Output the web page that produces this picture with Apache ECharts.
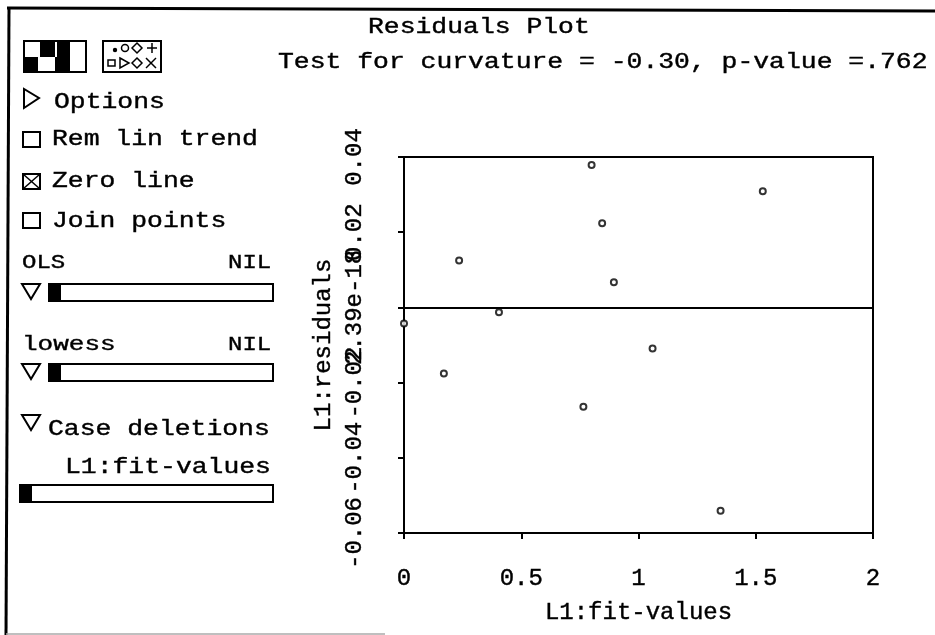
<!DOCTYPE html>
<html>
<head>
<meta charset="utf-8">
<style>
  html, body { margin: 0; padding: 0; background: #fff; }
  #main { width: 935px; height: 635px; }
</style>
</head>
<body>
<div id="main"></div>
<script src="https://cdn.jsdelivr.net/npm/echarts@6/dist/echarts.min.js"></script>
<script>
var fitValues = [0.80, 1.53, 0.845, 0.235, 0.895, 0, 0.405, 1.06, 0.17, 0.765, 1.35]
var residuals = [0.0379, 0.0309, 0.0224, 0.0125, 0.0067, -0.0043, -0.0013, -0.0109, -0.0176, -0.0264, -0.0541]
var yTickLabels = ['-0.06', '-0.04', '-0.02', '2.39e-18', '0.02', '0.04']
var xTickLabels = ['0', '0.5', '1', '1.5', '2']
var titleText = 'Residuals Plot'
var subtitleText = 'Test for curvature = -0.30, p-value =.762'

var mono = '"Liberation Mono", monospace'
var ink = '#000'
var weight = 0.4 //文字描边，原图字体偏粗

// 左侧面板的文字
function label(text, x, y, size, scaleX) {
  return {
    type: 'text',
    x: x,
    y: y,
    scaleX: scaleX || 1,
    style: {
      text: text,
      font: (size || 20) + 'px ' + mono,
      fill: ink,
      stroke: ink,
      lineWidth: weight,
      textVerticalAlign: 'middle',
    },
  }
}
function box(x, y, w, h, lw) {
  return {
    type: 'rect',
    shape: { x: x, y: y, width: w, height: h },
    style: { fill: '#fff', stroke: ink, lineWidth: lw || 2 },
  }
}
function solid(x, y, w, h) {
  return { type: 'rect', shape: { x: x, y: y, width: w, height: h }, style: { fill: ink } }
}
function tri(points, lw) {
  return { type: 'polygon', shape: { points: points }, style: { fill: '#fff', stroke: ink, lineWidth: lw || 2 } }
}
function slider(x, y, w) {
  return [box(x, y, w, 17), solid(x, y, 12, 17)]
}
function line(x1, y1, x2, y2, lw, color) {
  return { type: 'line', shape: { x1: x1, y1: y1, x2: x2, y2: y2 }, style: { stroke: color || ink, lineWidth: lw || 2 } }
}

var panel = [
  // 窗口边框
  line(7, 8, 935, 11, 3),
  line(9, 8, 6, 635, 3),
  line(6, 634, 385, 634, 1.5, '#aaa'),

  // 图标
  box(24, 41, 62, 31, 2),
  solid(40, 41, 15, 16),
  solid(57, 41, 13, 16),
  solid(24, 57, 14, 15),
  solid(55, 57, 15, 15),
  box(103, 41, 58, 31, 2),
  { type: 'circle', shape: { cx: 115, cy: 50, r: 2.2 }, style: { fill: ink } },
  { type: 'circle', shape: { cx: 125, cy: 48, r: 3.5 }, style: { fill: '#fff', stroke: ink, lineWidth: 1.5 } },
  tri([[137, 43], [142, 48], [137, 53], [132, 48]], 1.5),
  line(147, 48, 157, 48, 1.5),
  line(152, 43, 152, 53, 1.5),
  box(108, 60, 7, 6, 1.5),
  tri([[120, 58], [129, 63], [120, 68]], 1.5),
  tri([[137, 58], [142, 63], [137, 68], [132, 63]], 1.5),
  line(146, 58, 156, 68, 1.5),
  line(156, 58, 146, 68, 1.5),

  tri([[24, 89], [24, 108], [39, 98]]),
  box(23, 132, 17, 15),
  box(23, 174, 17, 15),
  line(23, 174, 40, 189, 1.5),
  line(40, 174, 23, 189, 1.5),
  box(23, 213, 17, 15),

  tri([[22, 284], [40, 284], [31, 299]]),
  tri([[22, 364], [40, 364], [31, 379]]),
  tri([[22, 415], [40, 415], [31, 430]]),

  label('Options', 54, 102, 22, 1.2),
  label('Rem lin trend', 52, 139, 22, 1.2),
  label('Zero line', 52, 181, 22, 1.2),
  label('Join points', 52, 221, 22, 1.2),
  label('OLS', 22, 263, 20, 1.2),
  label('NIL', 228, 263, 20, 1.2),
  label('lowess', 22, 345, 20, 1.3),
  label('NIL', 228, 345, 20, 1.2),
  label('Case deletions', 48, 429, 22, 1.2),
  label('L1:fit-values', 65, 467, 22, 1.2),

  label(titleText, 368, 27, 22, 1.2),
  label(subtitleText, 278, 62, 22, 1.2),
]
panel = panel.concat(slider(49, 284, 224), slider(49, 364, 224), slider(20, 485, 253))

var chart = echarts.init(document.getElementById('main'))
var option = {
  backgroundColor: '#fff',
  animation: false,
  grid: {
    left: 404,
    top: 157,
    width: 469,
    height: 376,
    show: true,
    borderColor: ink,
    borderWidth: 2,
  },
  xAxis: {
    type: 'value',
    min: 0,
    max: 2,
    interval: 0.5,
    name: 'L1:fit-values',
    nameLocation: 'middle',
    nameGap: 68,
    nameTextStyle: { fontFamily: mono, fontSize: 24, color: ink, textBorderColor: ink, textBorderWidth: weight },
    splitLine: { show: false },
    axisLine: { show: true, onZero: false, lineStyle: { color: ink, width: 2 } },
    axisTick: { show: true, length: 6, lineStyle: { color: ink, width: 2 } },
    axisLabel: {
      margin: 34,
      fontFamily: mono,
      fontSize: 24,
      color: ink,
      textBorderColor: ink,
      textBorderWidth: weight,
      hideOverlap: false,
      formatter: function (v) {
        return xTickLabels[Math.round(v / 0.5)]
      },
    },
  },
  yAxis: {
    type: 'value',
    min: -0.06,
    max: 0.04,
    interval: 0.02,
    name: 'L1:residuals',
    nameLocation: 'middle',
    nameRotate: 90,
    nameGap: 68,
    nameMoveOverlap: false,
    nameTextStyle: { fontFamily: mono, fontSize: 24, color: ink, textBorderColor: ink, textBorderWidth: weight },
    splitLine: { show: false },
    axisLine: { show: true, onZero: false, lineStyle: { color: ink, width: 2 } },
    axisTick: { show: true, length: 6, lineStyle: { color: ink, width: 2 } },
    axisLabel: {
      rotate: 90,
      margin: 37,
      fontFamily: mono,
      fontSize: 24,
      color: ink,
      textBorderColor: ink,
      textBorderWidth: weight,
      hideOverlap: false,
      formatter: function (v) {
        return yTickLabels[Math.round((v + 0.06) / 0.02)]
      },
    },
  },
  series: [
    {
      type: 'scatter',
      symbol: 'circle',
      symbolSize: 6,
      clip: false,
      itemStyle: { color: '#fff', borderColor: ink, borderWidth: 2 },
      data: fitValues.map(function (x, i) {
        return [x, residuals[i]]
      }),
      markLine: {
        silent: true,
        symbol: 'none',
        animation: false,
        label: { show: false },
        lineStyle: { color: ink, width: 2, type: 'solid' },
        data: [{ yAxis: 0 }],
      },
    },
  ],
  graphic: { elements: panel },
}
chart.setOption(option)
</script>
</body>
</html>
